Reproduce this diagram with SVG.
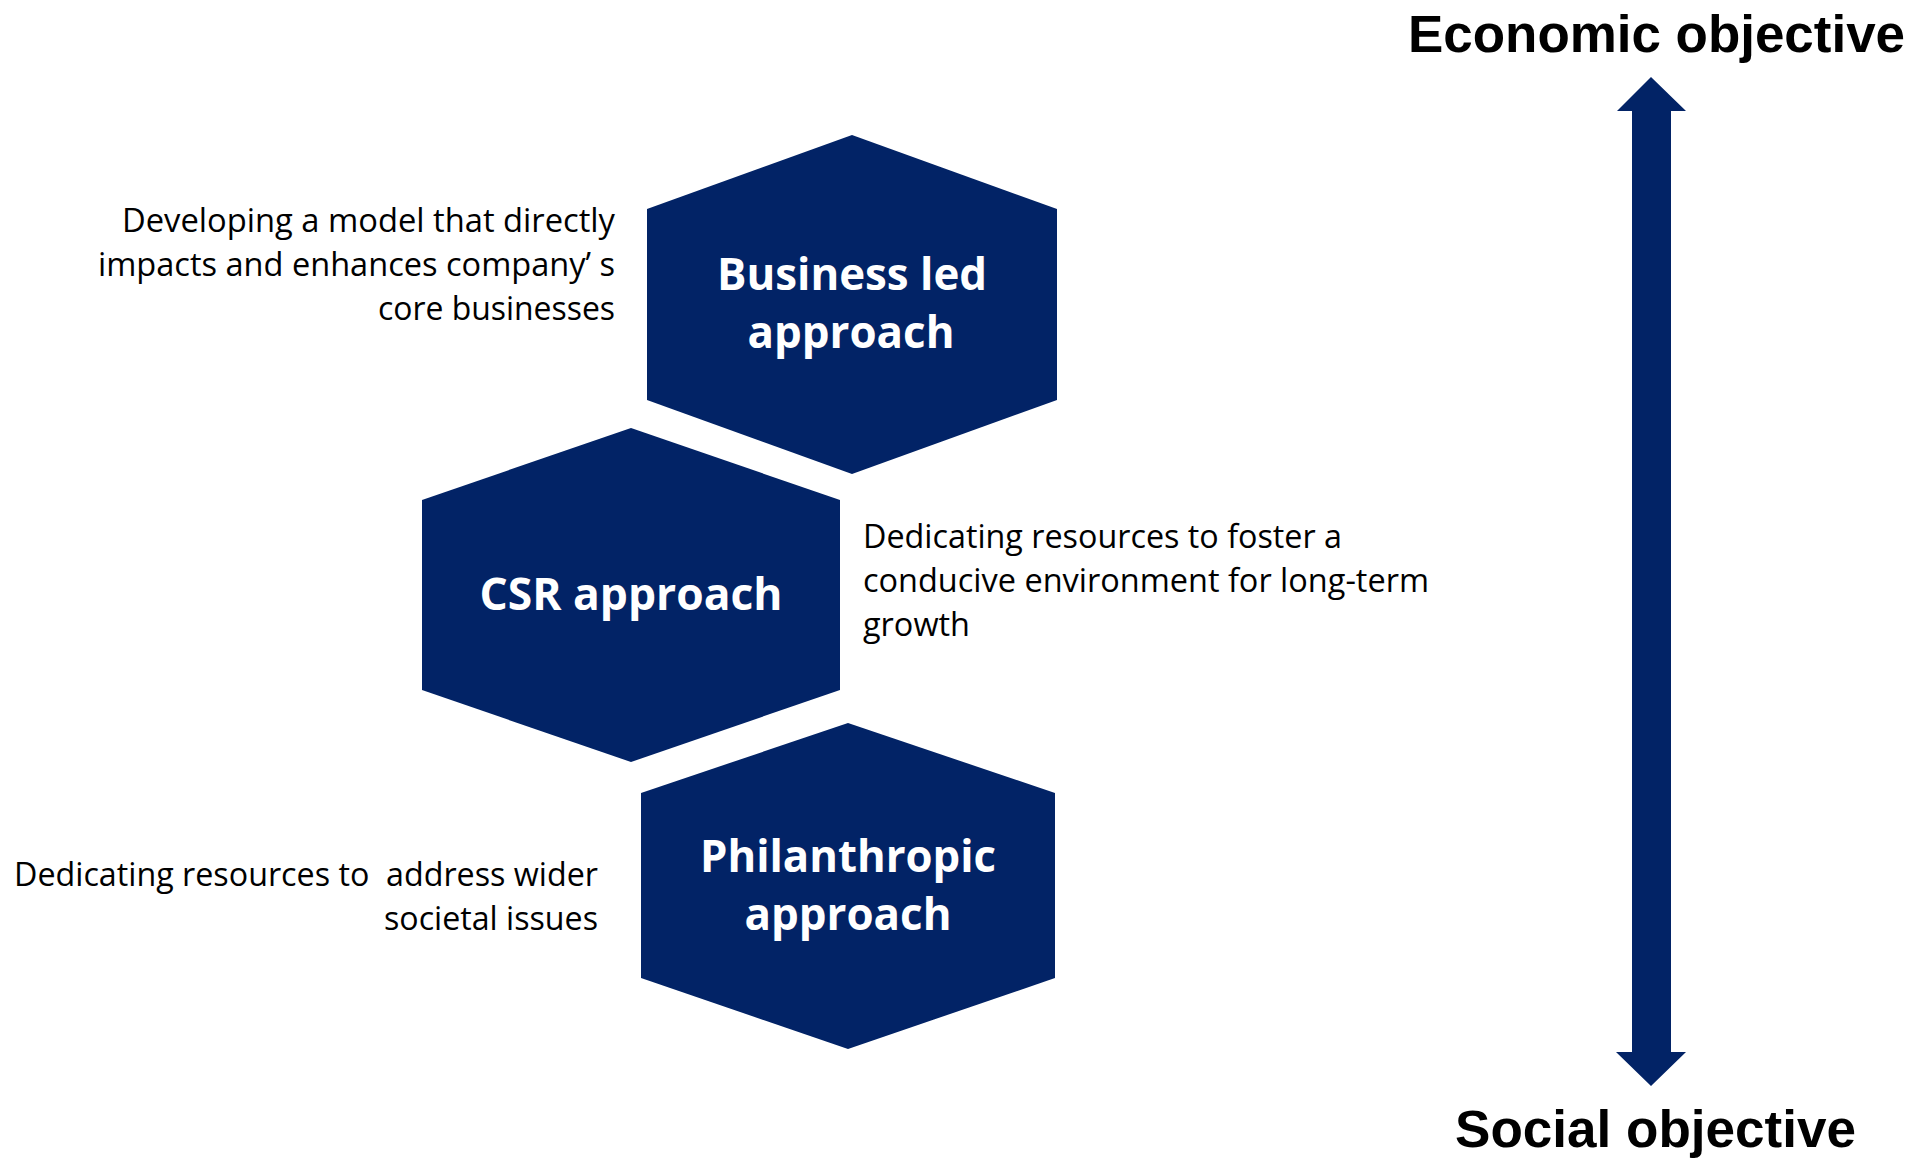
<svg xmlns="http://www.w3.org/2000/svg" width="1925" height="1161" viewBox="0 0 1925 1161">
  <style>
    .hex { fill: #022366; }
    .hex-label { font-family: "Open Sans", "Noto Sans", sans-serif; font-weight: 700; font-size: 44px; fill: #ffffff; text-anchor: middle; }
    .desc { font-family: "Open Sans", "Noto Sans", sans-serif; font-size: 33px; fill: #000000; }
    .desc-r { text-anchor: end; }
    .axis-label { font-family: "Liberation Sans", Arial, sans-serif; font-weight: 700; font-size: 51px; fill: #000000; }
    .axis { fill: #022366; }
  </style>
  <rect width="1925" height="1161" fill="#ffffff"/>

  <!-- Business led approach -->
  <g id="business-led">
    <polygon class="hex" points="852,135 1057,209 1057,400 852,474 647,400 647,209"/>
    <text class="hex-label" x="852" y="290" textLength="270" lengthAdjust="spacingAndGlyphs">Business led</text>
    <text class="hex-label" x="851" y="348" textLength="207" lengthAdjust="spacingAndGlyphs">approach</text>
  </g>

  <!-- CSR approach -->
  <g id="csr">
    <polygon class="hex" points="631,428 840,500 840,690 631,762 422,690 422,500"/>
    <text class="hex-label" x="631" y="610" textLength="303" lengthAdjust="spacingAndGlyphs">CSR approach</text>
  </g>

  <!-- Philanthropic approach -->
  <g id="philanthropic">
    <polygon class="hex" points="848,723 1055,793 1055,978 848,1049 641,978 641,793"/>
    <text class="hex-label" x="848" y="872" textLength="296" lengthAdjust="spacingAndGlyphs">Philanthropic</text>
    <text class="hex-label" x="848" y="930" textLength="207" lengthAdjust="spacingAndGlyphs">approach</text>
  </g>

  <!-- Descriptions -->
  <g id="desc-business-led">
    <text class="desc desc-r" x="615" y="232" textLength="493" lengthAdjust="spacingAndGlyphs">Developing a model that directly</text>
    <text class="desc desc-r" x="615" y="276" textLength="517" lengthAdjust="spacingAndGlyphs">impacts and enhances company’ s</text>
    <text class="desc desc-r" x="615" y="320" textLength="237" lengthAdjust="spacingAndGlyphs">core businesses</text>
  </g>
  <g id="desc-csr">
    <text class="desc" x="863" y="548" textLength="479" lengthAdjust="spacingAndGlyphs">Dedicating resources to foster a</text>
    <text class="desc" x="863" y="592" textLength="566" lengthAdjust="spacingAndGlyphs">conducive environment for long-term</text>
    <text class="desc" x="863" y="636" textLength="107" lengthAdjust="spacingAndGlyphs">growth</text>
  </g>
  <g id="desc-philanthropic">
    <text class="desc desc-r" x="598" y="886" textLength="584" lengthAdjust="spacingAndGlyphs" xml:space="preserve">Dedicating resources to  address wider</text>
    <text class="desc desc-r" x="598" y="930" textLength="214" lengthAdjust="spacingAndGlyphs">societal issues</text>
  </g>

  <!-- Objective axis -->
  <g id="connectors">
    <polygon class="axis" points="1651,77 1686,111 1671,111 1671,1052 1686,1052 1651,1086 1616,1052 1632,1052 1632,111 1617,111"/>
  </g>
  <g id="economic-objective">
    <text class="axis-label" x="1408" y="52" textLength="497" lengthAdjust="spacingAndGlyphs">Economic objective</text>
  </g>
  <g id="social-objective">
    <text class="axis-label" x="1455" y="1147" textLength="401" lengthAdjust="spacingAndGlyphs">Social objective</text>
  </g>
</svg>
